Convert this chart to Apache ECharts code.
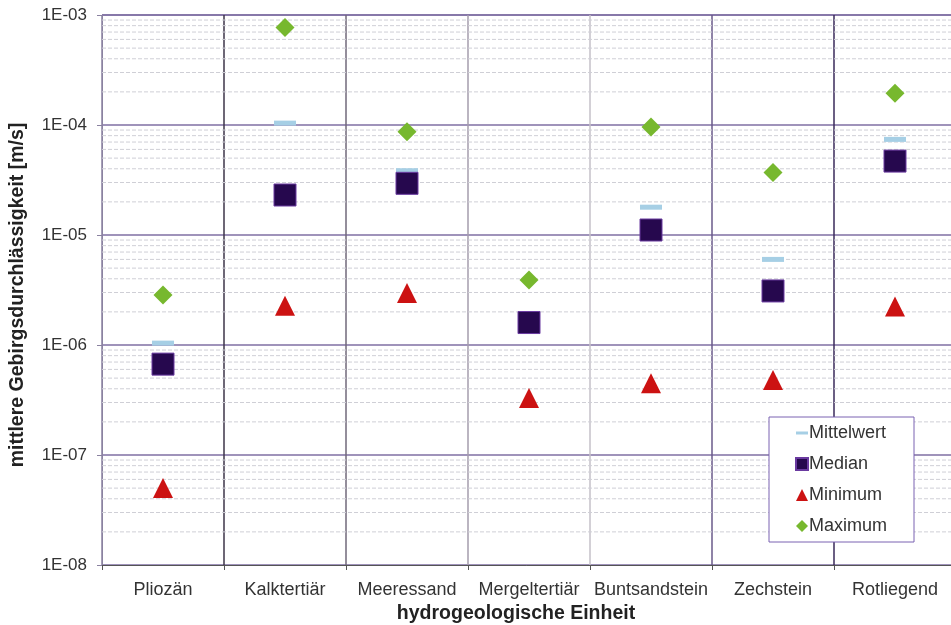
<!DOCTYPE html>
<html>
<head>
<meta charset="utf-8">
<script src="https://cdn.jsdelivr.net/npm/echarts@6/dist/echarts.min.js"></script>
<style>
html,body{margin:0;padding:0;background:#fff;}
#chart{width:951px;height:625px;}
</style>
</head>
<body>
<div id="chart"></div>
<script>
var einheiten = ['Pliozän', 'Kalktertiär', 'Meeressand', 'Mergeltertiär', 'Buntsandstein', 'Zechstein', 'Rotliegend'];
var mittelwert = [1.04e-6, 1.04e-4, 3.84e-5, 1.65e-6, 1.79e-5, 6.0e-6, 7.4e-5];
var median = [6.7e-7, 2.31e-5, 2.95e-5, 1.6e-6, 1.11e-5, 3.1e-6, 4.7e-5];
var minimum = [5.0e-8, 2.28e-6, 2.97e-6, 3.3e-7, 4.5e-7, 4.8e-7, 2.24e-6];
var maximum = [2.85e-6, 7.7e-4, 8.7e-5, 3.9e-6, 9.6e-5, 3.7e-5, 1.94e-4];
// feine Hilfslinien 2..9 je Dekade
var dekaden = [1e-8, 1e-7, 1e-6, 1e-5, 1e-4];
var faktoren = [2, 3, 4, 5, 6, 7, 8, 9];

var hilfsSerien = [];
dekaden.forEach(function (d) {
    faktoren.forEach(function (f) {
        var v = f * d;
        hilfsSerien.push({
            type: 'line',
            xAxisIndex: 1,
            silent: true,
            symbol: 'none',
            lineStyle: {color: '#cfcfd6', type: [4, 2], width: 1},
            data: [[0, v], [1, v]],
            z: 1
        });
    });
});

var myChart = echarts.init(document.getElementById('chart'));
var option = {
    backgroundColor: '#fff',
    animation: false,
    textStyle: {fontFamily: 'Liberation Sans, Arial, sans-serif'},
    grid: {left: 102, top: 15, right: -5, bottom: 60, outerBoundsMode: 'none', containLabel: false},
    legend: {
        orient: 'vertical',
        left: 769,
        top: 417,
        padding: [7, 27, 7, 26],
        itemGap: 13,
        itemWidth: 12,
        itemHeight: 12,
        borderColor: '#7a62b2',
        borderWidth: 1,
        backgroundColor: '#fff',
        textStyle: {fontSize: 18, color: '#333', padding: [0, 0, 0, -4]},
        data: [
            {name: 'Mittelwert', icon: 'path://M0,0h12v3h-12z'},
            {name: 'Median', icon: 'rect'},
            {name: 'Minimum', icon: 'triangle'},
            {name: 'Maximum', icon: 'diamond'}
        ]
    },
    xAxis: [{
        type: 'category',
        data: einheiten,
        name: 'hydrogeologische Einheit',
        nameLocation: 'middle',
        nameGap: 39,
        nameTextStyle: {fontSize: 19.5, fontWeight: 'bold', color: '#222', padding: [0, 26, 0, 0]},
        axisLine: {lineStyle: {color: '#555', width: 1}},
        axisTick: {show: true, interval: 0, length: 5, lineStyle: {color: '#555'}},
        axisLabel: {fontSize: 18, color: '#333', margin: 16, interval: 0},
        splitLine: {
            show: true,
            interval: 0,
            lineStyle: {
                width: 1.5,
                color: ['#8a80a0', '#3c3448', '#70687a', '#a49cac', '#c4c0c8', '#6a5a8a', '#3a2a5a', '#3a2a5a']
            }
        }
    }, {
        type: 'value',
        min: 0,
        max: 1,
        show: false
    }],
    yAxis: {
        type: 'log',
        logBase: 10,
        min: 1e-8,
        max: 1e-3,
        name: 'mittlere Gebirgsdurchlässigkeit [m/s]',
        nameLocation: 'middle',
        nameGap: 74,
        nameTextStyle: {fontSize: 19.5, fontWeight: 'bold', color: '#222', padding: [0, 10, 0, 0]},
        axisLine: {show: true, lineStyle: {color: '#8a82a0'}},
        axisTick: {show: true, length: 5, lineStyle: {color: '#8a82a0'}},
        axisLabel: {
            fontSize: 17,
            color: '#333',
            margin: 15,
            formatter: function (v) {
                var e = Math.round(Math.log(v) / Math.LN10);
                return '1E-' + (Math.abs(e) < 10 ? '0' : '') + Math.abs(e);
            }
        },
        splitLine: {show: true, lineStyle: {color: '#7f6fa3', width: 1.5}}
    },
    series: hilfsSerien.concat([
        {
            name: 'Mittelwert',
            type: 'scatter',
            data: mittelwert,
            symbol: 'rect',
            symbolSize: [22, 5],
            itemStyle: {color: '#a6cfe5', opacity: 1},
            z: 3
        },
        {
            name: 'Median',
            type: 'scatter',
            data: median,
            symbol: 'rect',
            symbolSize: 22,
            itemStyle: {color: '#26084e', borderColor: '#6a3aa0', borderWidth: 1, opacity: 1},
            z: 4
        },
        {
            name: 'Minimum',
            type: 'scatter',
            data: minimum,
            symbol: 'triangle',
            symbolSize: [20, 20],
            itemStyle: {color: '#cc1212', opacity: 1},
            z: 4
        },
        {
            name: 'Maximum',
            type: 'scatter',
            data: maximum,
            symbol: 'diamond',
            symbolSize: 19,
            itemStyle: {color: '#77b82e', opacity: 1},
            z: 4
        }
    ])
};
myChart.setOption(option);
</script>
</body>
</html>
